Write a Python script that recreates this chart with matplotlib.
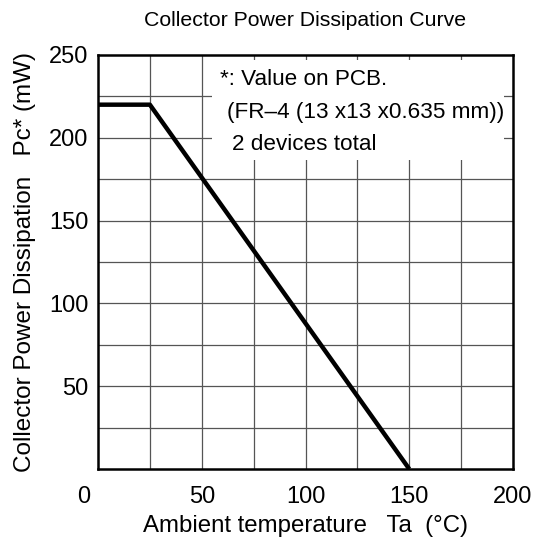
import matplotlib.pyplot as plt
import matplotlib.transforms as mtransforms

plt.rcParams['font.family'] = ['Liberation Sans', 'DejaVu Sans']

# derating curve
ta = [0, 25, 150]
pc = [220, 220, 0]

x_ticks = [0, 50, 100, 150, 200]
y_ticks = [50, 100, 150, 200, 250]
x_grid = [25, 50, 75, 100, 125, 150, 175]
y_grid = [25, 50, 75, 100, 125, 150, 175, 200, 225]

note_lines = ["*: Value on PCB.", "(FR\u20134 (13 x13 x0.635 mm))", "2 devices total"]
note_x = [58.8, 62.0, 64.4]
note_y = [235, 215, 195.7]

fig = plt.figure(figsize=(5.34, 5.45), dpi=100)
ax = fig.add_axes([98 / 534, 1 - 469 / 545, 415 / 534, 414 / 545])

for x in x_grid:
    ax.axvline(x, color='#555555', lw=0.9, zorder=1)
for y in y_grid:
    ax.axhline(y, color='#555555', lw=0.9, zorder=1)

# white box behind the note hides the grid
ax.add_patch(plt.Rectangle((54.8, 186.6), 141, 60.5, facecolor='white',
                           edgecolor='none', zorder=2))

ax.plot(ta, pc, color='black', lw=3.2, zorder=3, solid_capstyle='butt')

ax.set_xlim(0, 200)
ax.set_ylim(0, 250)
ax.set_xticks(x_ticks)
ax.set_yticks(y_ticks)
ax.tick_params(length=0, labelsize=17)
ax.tick_params(axis='x', pad=12.5)
ax.tick_params(axis='y', pad=7)
for s in ax.spines.values():
    s.set_linewidth(1.8)

# the "0" sits a bit left of the origin
lbl0 = ax.get_xticklabels()[0]
lbl0.set_transform(lbl0.get_transform() +
                   mtransforms.ScaledTranslation(-0.14, 0, fig.dpi_scale_trans))

ax.set_title("Collector Power Dissipation Curve", fontsize=15.3, pad=21)
ax.set_xlabel("Ambient temperature   Ta  (\u00b0C)", fontsize=17.3, labelpad=4.5)
ax.set_ylabel("Collector Power Dissipation   Pc* (mW)", fontsize=17.5, labelpad=9.5)

for t, x, y in zip(note_lines, note_x, note_y):
    ax.text(x, y, t, fontsize=16.2, va='center', ha='left', zorder=4)

fig.savefig("out.png", dpi=100)
